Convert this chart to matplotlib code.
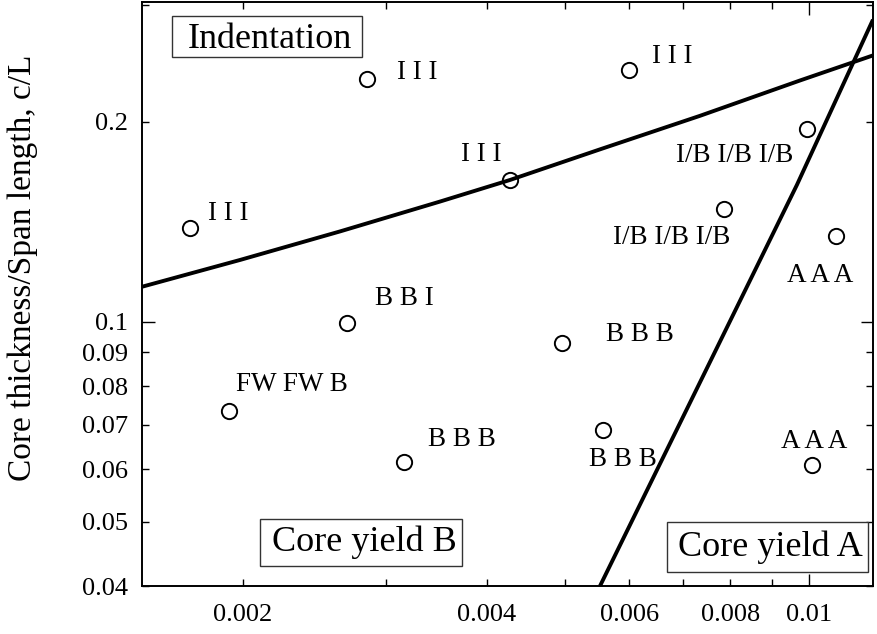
import numpy as np
import matplotlib.pyplot as plt
from matplotlib.patches import Rectangle
from matplotlib.ticker import FuncFormatter

plt.rcParams['font.family'] = ['Liberation Serif', 'DejaVu Serif']

# measured points: face thickness / span (x) vs core thickness / span (y)
x_pts = [0.001718, 0.002844, 0.006000, 0.004274, 0.00995, 0.007855, 0.01080,
         0.002691, 0.004959, 0.001924, 0.003165, 0.005570, 0.01008]
y_pts = [0.1383, 0.2321, 0.2390, 0.1635, 0.1950, 0.1480, 0.1344,
         0.0997, 0.0929, 0.0734, 0.0615, 0.0686, 0.0608]
pt_labels = ['I I I', 'I I I', 'I I I', 'I I I', 'I/B I/B I/B', 'I/B I/B I/B', 'A A A',
             'B B I', 'B B B', 'FW FW B', 'B B B', 'B B B', 'A A A']

# indentation / core yield B boundary
indent_x = [0.0015, 0.001983, 0.002636, 0.003502, 0.004274, 0.00552, 0.007335, 0.009747, 0.012]
indent_y = [0.1129, 0.1239, 0.1368, 0.1517, 0.1635, 0.1818, 0.2042, 0.2308, 0.2518]

# core yield B / core yield A boundary
yieldA_x = [0.00552, 0.009665, 0.012]
yieldA_y = [0.04, 0.1607, 0.285]

x_ticklabels = {0.002: '0.002', 0.004: '0.004', 0.006: '0.006', 0.008: '0.008', 0.01: '0.01'}
y_ticklabels = {0.04: '0.04', 0.05: '0.05', 0.06: '0.06', 0.07: '0.07', 0.08: '0.08',
                0.09: '0.09', 0.1: '0.1', 0.2: '0.2'}

region_names = ['Indentation', 'Core yield B', 'Core yield A']

# label placement (pixels, y up) relative to each point
label_layout = [('left', 18, 15), ('left', 30, 6), ('left', 23, 14), ('center', -29, 25),
                ('right', -14, -26), ('center', -52, -29), ('center', -16, -39),
                ('left', 28, 24), ('left', 44, 8), ('left', 7, 26), ('left', 24, 22),
                ('center', 20, -29), ('center', 3, 24)]
# region boxes in axes fraction: x0, y0, x1, y1, text y nudge
region_boxes = [(0.041, 0.906, 0.301, 0.976, -0.006), (0.1614, 0.0342, 0.4378, 0.1147, 0.0),
                (0.7182, 0.024, 0.9932, 0.1096, 0.0)]

fig = plt.figure(figsize=(8.77, 6.34), dpi=100)
ax = fig.add_axes([0.1619, 0.0757, 0.8335, 0.9211])
ax.set_xscale('log')
ax.set_yscale('log')
ax.set_xlim(0.0015, 0.012)
ax.set_ylim(0.04, 0.303)

ax.plot(indent_x, indent_y, color='black', lw=2.8, solid_capstyle='butt', zorder=3)
ax.plot(yieldA_x, yieldA_y, color='black', lw=2.8, solid_capstyle='butt', zorder=3)
ax.plot(x_pts, y_pts, 'o', ms=11, mfc='none', mec='black', mew=1.4, zorder=2)

for (xv, yv, lab), (ha, dx, dy) in zip(zip(x_pts, y_pts, pt_labels), label_layout):
    ax.annotate(lab, (xv, yv), xytext=(dx, dy), textcoords='offset pixels',
                ha=ha, va='center', fontsize=19.5)

for name, (x0, y0, x1, y1, nudge) in zip(region_names, region_boxes):
    ax.add_patch(Rectangle((x0, y0), x1 - x0, y1 - y0, transform=ax.transAxes,
                           fc='white', ec='#333333', lw=1.0, zorder=4))
    ax.text((x0 + x1) / 2 + 0.004, (y0 + y1) / 2 + nudge, name, transform=ax.transAxes,
            ha='center', va='center', fontsize=26, zorder=5)


def fmt(labels):
    def f(v, pos):
        for k, s in labels.items():
            if abs(v - k) / k < 1e-6:
                return s
        return ''
    return FuncFormatter(f)


ax.xaxis.set_major_formatter(fmt(x_ticklabels))
ax.xaxis.set_minor_formatter(fmt(x_ticklabels))
ax.yaxis.set_major_formatter(fmt(y_ticklabels))
ax.yaxis.set_minor_formatter(fmt(y_ticklabels))

ax.tick_params(which='both', direction='in', top=True, right=True, labelsize=19, width=1.0)
ax.tick_params(axis='x', which='both', pad=13)
ax.tick_params(axis='y', which='both', pad=10)
ax.tick_params(which='major', length=9)
ax.tick_params(which='minor', length=5)
for s in ax.spines.values():
    s.set_linewidth(1.4)

ax.set_ylabel('Core thickness/Span length, c/L', fontsize=24)
ax.yaxis.set_label_coords(-0.142, 0.545)

fig.savefig('out.png', dpi=100, facecolor='white')
